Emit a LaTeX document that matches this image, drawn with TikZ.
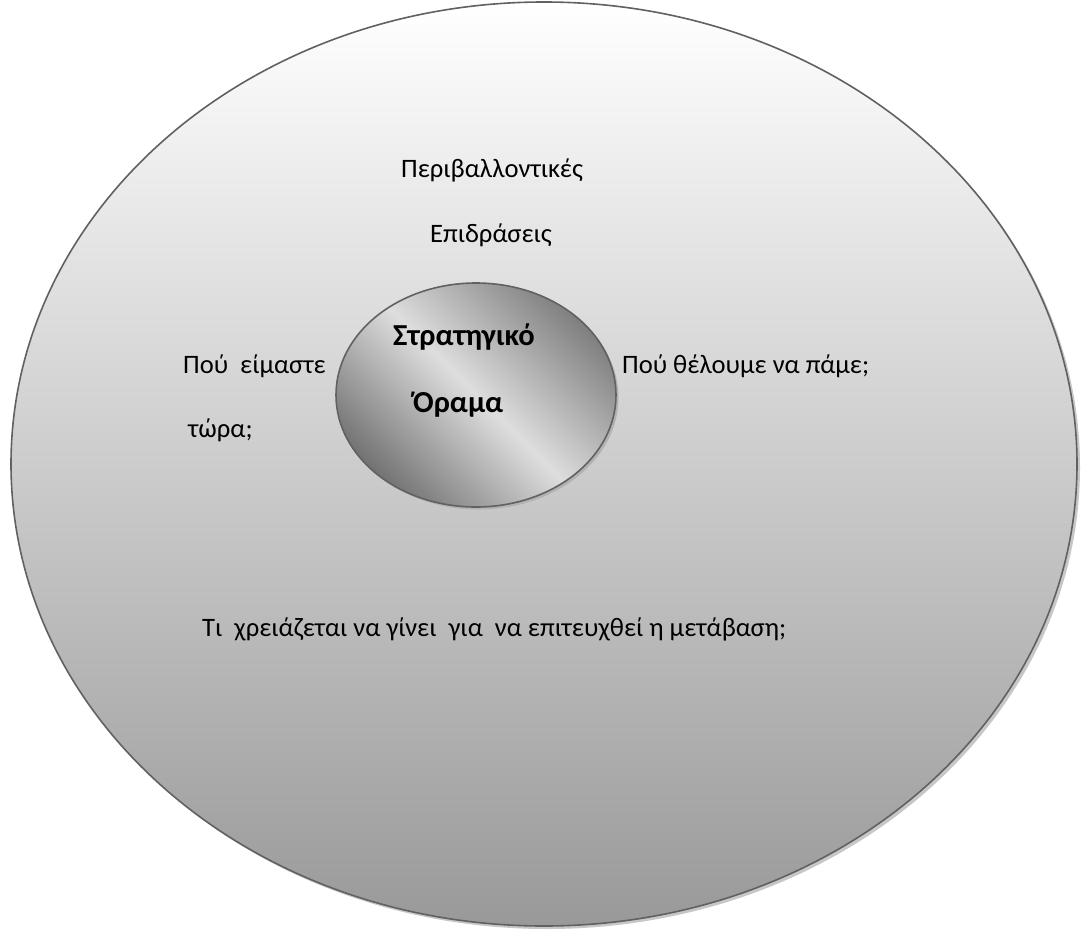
\documentclass[tikz,border=0pt]{standalone}
\usepackage{fontspec}
\setmainfont{Carlito}
\begin{document}
\begin{tikzpicture}[x=1pt,y=-1pt,
  lbl/.style={anchor=base west,inner sep=0pt,font=\fontsize{26.6}{32}\selectfont},
  boldlbl/.style={lbl,font=\fontsize{30.5}{36}\selectfont\bfseries},
  rim/.style={draw=black!62,line width=1.6pt}]
\useasboundingbox (0,0) rectangle (1081,929);
\fill[white] (0,0) rectangle (1081,929);
% outer environment ellipse with its drop shadow
\fill[black!22] (547,467) ellipse [x radius=533pt, y radius=462pt];
\shade[top color=white, bottom color=black!40, rim] (544,464) ellipse [x radius=533pt, y radius=462pt];
% inner vision ellipse with its drop shadow
\fill[black!30] (478.5,397.5) ellipse [x radius=140pt, y radius=112pt];
\shade[top color=black!50, bottom color=black!55, middle color=black!13, shading angle=-45, rim]
  (476,395) ellipse [x radius=140pt, y radius=112pt];
% labels
\node[lbl] (env1) at (401,177) {Περιβαλλοντικές};
\node[lbl] (env2) at (430,242) {Επιδράσεις};
\node[boldlbl] (vis1) at (393,345) {Στρατηγικό};
\node[boldlbl] (vis2) at (413,412) {Όραμα};
\node[lbl] (now1) at (183,373) {Πού\ \ είμαστε};
\node[lbl] (now2) at (188,437) {τώρα;};
\node[lbl] (goal) at (622,373) {Πού θέλουμε να πάμε;};
\node[lbl] (need) at (202,636) {Τι\ \ χρειάζεται να γίνει\ \ για\ \ να επιτευχθεί η μετάβαση;};
\end{tikzpicture}
\end{document}
